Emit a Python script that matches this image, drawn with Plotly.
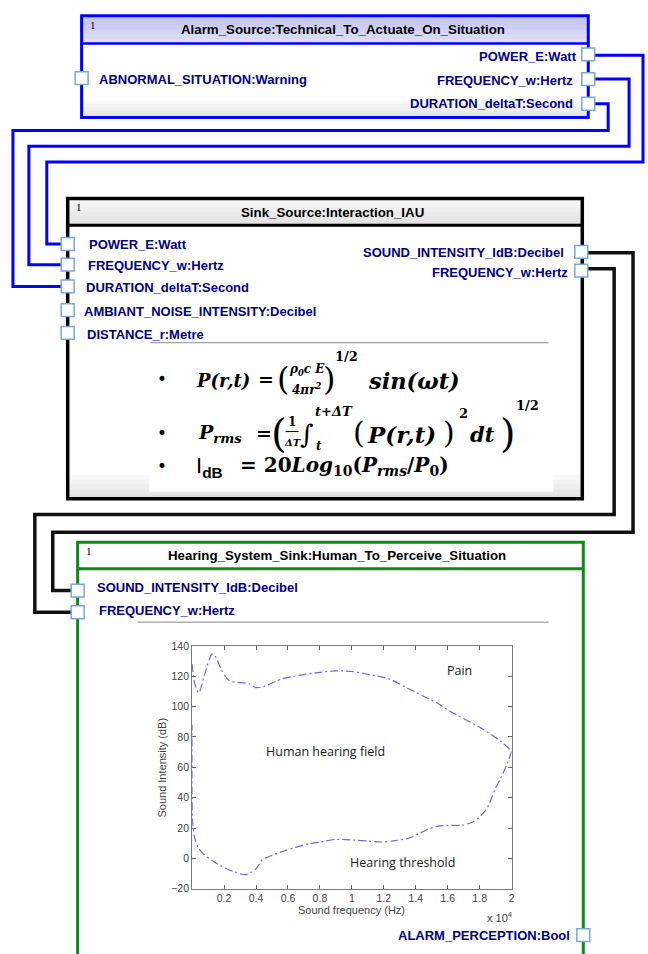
import plotly.graph_objects as go

W, H = 648, 954

# ---------------- data: hearing field ----------------
pain_freq = [0, 145, 415, 770, 1245, 1494, 1805, 2324, 3568, 3983, 4500, 5643, 6680,
             7718, 8963, 10000, 10830, 12282, 13942, 15394, 16017, 18091, 19336, 20000]
pain_db = [128, 116, 109, 120.5, 134.6, 132.4, 124.8, 117.2, 115, 112.5, 113.3, 118.3, 120.5,
           122.2, 123.5, 123.1, 121.6, 118.3, 109.6, 102, 97.7, 85.8, 77.1, 70.6]
threshold_freq = [20000, 19751, 19336, 18921, 18506, 18091, 17573, 16846, 16017, 15394, 14772,
                  14149, 13527, 12697, 11867, 11037, 10207, 8963, 8133, 7303, 6473, 5643, 4813,
                  4398, 3983, 3361, 2531, 1494, 664, 353, 145, 41, 0, 0]
threshold_db = [70.6, 63, 53.3, 44.6, 33.8, 28.3, 24, 21.8, 21.8, 21.2, 19.2, 16, 13.2, 11.7,
                10.8, 11.4, 12, 12.5, 11, 9.5, 7.3, 4.5, 1.2, -0.9, -7, -10.7, -8.5, -3.1, 3.4,
                7.7, 14.3, 23, 40, 88]
x_tick_vals = [2000, 4000, 6000, 8000, 10000, 12000, 14000, 16000, 18000, 20000]
x_tick_text = ["0.2", "0.4", "0.6", "0.8", "1", "1.2", "1.4", "1.6", "1.8", "2"]
y_tick_vals = [-20, 0, 20, 40, 60, 80, 100, 120, 140]
region_labels = ["Pain", "Human hearing field", "Hearing threshold"]
region_x = [16740, 8330, 13150]
region_y = [124, 70.5, -3]

# ---------------- diagram text ----------------
box1_title = "Alarm_Source:Technical_To_Actuate_On_Situation"
box2_title = "Sink_Source:Interaction_IAU"
box3_title = "Hearing_System_Sink:Human_To_Perceive_Situation"
box1_in = ["ABNORMAL_SITUATION:Warning"]
box1_out = ["POWER_E:Watt", "FREQUENCY_w:Hertz", "DURATION_deltaT:Second"]
box2_in = ["POWER_E:Watt", "FREQUENCY_w:Hertz", "DURATION_deltaT:Second",
           "AMBIANT_NOISE_INTENSITY:Decibel", "DISTANCE_r:Metre"]
box2_out = ["SOUND_INTENSITY_IdB:Decibel", "FREQUENCY_w:Hertz"]
box3_in = ["SOUND_INTENSITY_IdB:Decibel", "FREQUENCY_w:Hertz"]
box3_out = ["ALARM_PERCEPTION:Bool"]


def X(x):
    return x / W


def Y(y):
    return 1 - y / H


shapes = []
annotations = []

LABEL_FONT = "Liberation Sans, Arial, sans-serif"
NAVY = "#000080"
BLUE = "#0000ff"
GREEN = "#14871a"
PORT_COL = "#78a8dc"


def rect(x0, y0, x1, y1, fill=None, lc=None, lw=0, layer="above"):
    shapes.append(dict(type="rect", xref="paper", yref="paper",
                       x0=X(x0), x1=X(x1), y0=Y(y1), y1=Y(y0),
                       fillcolor=fill if fill else "rgba(0,0,0,0)",
                       line=dict(color=lc if lc else "rgba(0,0,0,0)", width=lw),
                       layer=layer))


def hline(x0, x1, y, color, width):
    shapes.append(dict(type="line", xref="paper", yref="paper",
                       x0=X(x0), x1=X(x1), y0=Y(y), y1=Y(y),
                       line=dict(color=color, width=width)))


def poly(points, color, width):
    d = "M " + " L ".join(f"{X(px):.5f},{Y(py):.5f}" for px, py in points)
    shapes.append(dict(type="path", xref="paper", yref="paper", path=d,
                       line=dict(color=color, width=width)))


def port(cx, cy, s=13):
    rect(cx - s / 2, cy - s / 2, cx + s / 2, cy + s / 2, fill="white", lc=PORT_COL, lw=1.5)


def text(x, y, s, size=13, color=NAVY, xanchor="left", family=LABEL_FONT, bold=True,
         italic=False, yanchor="middle", textangle=0):
    if bold:
        s = "<b>" + s + "</b>"
    if italic:
        s = "<i>" + s + "</i>"
    annotations.append(dict(x=X(x), y=Y(y), xref="paper", yref="paper", text=s,
                            showarrow=False, xanchor=xanchor, yanchor=yanchor,
                            font=dict(size=size, color=color, family=family),
                            textangle=textangle))


def gradient(x0, y0, x1, y1, c_top, c_bot, steps=6):
    h = (y1 - y0) / steps
    for i in range(steps):
        t = i / (steps - 1)
        c = tuple(int(round(c_top[k] + (c_bot[k] - c_top[k]) * t)) for k in range(3))
        rect(x0, y0 + i * h, x1, y0 + (i + 1) * h + 0.5, fill=f"rgb{c}", layer="below")


# ---------------- Box 1 ----------------
B1 = dict(x0=82, x1=591, y0=10, y1=113, hb=38)
gradient(B1["x0"], B1["y0"], B1["x1"], B1["hb"], (196, 196, 238), (222, 222, 248), 6)
gradient(B1["x0"], 92, B1["x1"], B1["y1"], (255, 255, 255), (228, 228, 228), 6)
# ---------------- Box 2 ----------------
B2 = dict(x0=68, x1=585, y0=195, y1=499, hb=222)
gradient(B2["x0"], B2["y0"], B2["x1"], B2["hb"], (246, 246, 246), (226, 226, 226), 6)
gradient(B2["x0"], 470, B2["x1"], B2["y1"], (255, 255, 255), (226, 226, 226), 6)
rect(150, 343, 556, 492, fill="white", layer="below")
# ---------------- Box 3 ----------------
B3 = dict(x0=78, x1=586, y0=543, y1=990, hb=570)

# connectors (blue)
poly([(597, 50), (646, 50), (646, 158), (47, 158), (47, 241), (62, 241)], BLUE, 3)
poly([(597, 74), (632, 74), (632, 142), (29, 142), (29, 262), (62, 262)], BLUE, 3)
poly([(597, 99), (611, 99), (611, 126), (13, 126), (13, 284), (62, 284)], BLUE, 3)
# connectors (black)
poly([(590, 250), (636, 250), (636, 533), (53, 533), (53, 592), (72, 592)], "#111111", 3.5)
poly([(590, 266), (617, 266), (617, 515), (35, 515), (35, 614), (72, 614)], "#111111", 3.5)

# box borders
rect(B1["x0"], B1["y0"], B1["x1"], B1["y1"], lc=BLUE, lw=3)
hline(B1["x0"], B1["x1"], B1["hb"], BLUE, 2.5)
rect(B2["x0"], B2["y0"], B2["x1"], B2["y1"], lc="#000000", lw=3.5)
hline(B2["x0"], B2["x1"], B2["hb"], "#000000", 3)
rect(B3["x0"], B3["y0"], B3["x1"], B3["y1"], lc=GREEN, lw=3)
hline(B3["x0"], B3["x1"], B3["hb"], GREEN, 3)

# separators
hline(151, 551, 341, "#8a8a8a", 1)
hline(138, 551, 624, "#8a8a8a", 1)

# ports
b1_in_y = [73]
b1_out_y = [49, 74, 99]
b2_in_y = [241, 262, 284, 308, 331]
b2_out_y = [249, 268]
b3_in_y = [592, 614]
b3_out_y = [941]
for yy in b1_in_y:
    port(B1["x0"], yy)
for yy in b1_out_y:
    port(B1["x1"], yy)
for yy in b2_in_y:
    port(B2["x0"], yy)
for yy in b2_out_y:
    port(B2["x1"] - 1, yy)
for yy in b3_in_y:
    port(B3["x0"], yy)
for yy in b3_out_y:
    port(B3["x1"], yy)

# titles
text(345, 24, box1_title, 13.3, "#000000", "center")
text(334, 209, box2_title, 13.3, "#000000", "center")
text(339, 557, box3_title, 13.3, "#000000", "center")
for (x, y) in [(88, 19), (74, 204), (84, 552)]:
    text(x, y, "1", 11, "#000000", "left", "Liberation Serif, serif", bold=False)

# port labels
text(97, 74, box1_in[0])
for s, yy, xe in zip(box1_out, [51, 75, 99], [582, 578, 578]):
    text(xe, yy, s, xanchor="right")
for s, yy, xs in zip(box2_in, [242, 263, 285, 309, 333], [87, 86, 84, 82, 85]):
    text(xs, yy, s)
for s, yy, xe in zip(box2_out, [250, 270], [569, 573]):
    text(xe, yy, s, xanchor="right")
for s, yy, xs in zip(box3_in, [589, 612], [95, 97]):
    text(xs, yy, s)
text(575, 941, box3_out[0], xanchor="right")

# ---------------- formulas ----------------
SERIF = "DejaVu Serif, serif"
K = "#000000"
for yy in [378, 432, 466]:
    text(163, yy, "•", 17, K, "center", "DejaVu Sans, sans-serif", bold=False)
# formula 1
text(195, 379, "P(r,t)", 18, K, family=SERIF, italic=True)
text(267, 378, "=", 19, K, "center", SERIF)
text(284, 378, "(", 32, K, "center", SERIF, bold=False)
text(308, 369, "ρ<sub>0</sub>c E", 12, K, "center", SERIF, italic=True)
text(308, 388, "4πr<sup>2</sup>", 12, K, "center", SERIF, italic=True)
text(331, 378, ")", 32, K, "center", SERIF, bold=False)
text(348, 355, "1/2", 13, K, "center", SERIF)
text(368, 380, "sin(ωt)", 22.5, K, family=SERIF, italic=True)
# formula 2
text(197, 433, "P<sub>rms</sub>", 19, K, family=SERIF, italic=True)
text(265, 432, "=", 19, K, "center", SERIF)
text(280, 432, "(", 40, K, "center", SERIF, bold=False)
text(293, 421, "1", 12, K, "center", SERIF)
hline(287, 300, 431, K, 1)
text(294, 442, "ΔT", 10, K, "center", SERIF, italic=True)
text(308, 433, "∫", 26, K, "center", SERIF, bold=False)
text(314, 411, "t+ΔT", 13, K, family=SERIF, italic=True)
text(315, 446, "t", 12, K, family=SERIF, italic=True)
text(361, 432, "(", 30, K, "center", SERIF, bold=False)
text(367, 434, "P(r,t)", 23, K, family=SERIF, italic=True)
text(451, 432, ")", 30, K, "center", SERIF, bold=False)
text(459, 413, "2", 13, K, family=SERIF)
text(470, 434, "dt", 21, K, family=SERIF, italic=True)
text(510, 432, ")", 40, K, "center", SERIF, bold=False)
text(530, 405, "1/2", 13, K, "center", SERIF)
# formula 3
text(195, 467, "I<sub><b>dB</b></sub>", 22, K, family="Liberation Sans, Arial, sans-serif", bold=False)
text(239, 466, "= 20<i>Log</i><sub>10</sub>(<i>P</i><sub><i>rms</i></sub>/<i>P</i><sub>0</sub>)",
     20, K, family=SERIF)

# ---------------- inset chart ----------------
AX_L, AX_R, AX_T, AX_B = 193, 514, 648, 894
CURVE_COL = "#6a6ae0"
fig = go.Figure()
for fx, fy in [(pain_freq, pain_db), (threshold_freq, threshold_db)]:
    fig.add_trace(go.Scatter(x=fx, y=fy, mode="lines", showlegend=False,
                             line=dict(color=CURVE_COL, width=1.2, dash="8px,3px,2px,3px",
                                       shape="spline", smoothing=0.8),
                             hoverinfo="skip"))

for s, xx, yy in zip(region_labels, region_x, region_y):
    annotations.append(dict(x=xx, y=yy, xref="x", yref="y", text=s, showarrow=False,
                            xanchor="center", yanchor="middle",
                            font=dict(size=12.5, color="#1a1a1a", family="Open Sans, sans-serif")))

text(353, 916, "Sound frequency (Hz)", 11, "#444444", "center", "Liberation Sans, Arial", bold=False)
text(163, 771, "Sound Intensity (dB)", 11, "#444444", "center", "Liberation Sans, Arial",
     bold=False, textangle=-90)
text(502, 923, "x 10<sup>4</sup>", 11, "#444444", "center", "Liberation Sans, Arial", bold=False)

tickfont = dict(size=10.5, color="#444444", family="Liberation Sans, Arial, sans-serif")
fig.update_layout(
    width=W, height=H, margin=dict(l=0, r=0, t=0, b=0),
    paper_bgcolor="white", plot_bgcolor="white",
    xaxis=dict(domain=[X(AX_L), X(AX_R)], range=[0, 20000], tickvals=x_tick_vals,
               ticktext=x_tick_text, ticks="inside", ticklen=4, tickcolor="#666",
               showline=True, linecolor="#7a7a7a", linewidth=1, mirror="ticks",
               showgrid=False, zeroline=False, tickfont=tickfont, fixedrange=True),
    yaxis=dict(domain=[Y(AX_B), Y(AX_T)], range=[-20, 140], tickvals=y_tick_vals,
               ticks="inside", ticklen=4, tickcolor="#666",
               showline=True, linecolor="#7a7a7a", linewidth=1, mirror="ticks",
               showgrid=False, zeroline=False, tickfont=tickfont, fixedrange=True),
    shapes=shapes, annotations=annotations,
)

fig.write_html("out.html", config=dict(displayModeBar=False),
               post_script="document.body.style.margin='0px';document.body.style.overflow='hidden';")
